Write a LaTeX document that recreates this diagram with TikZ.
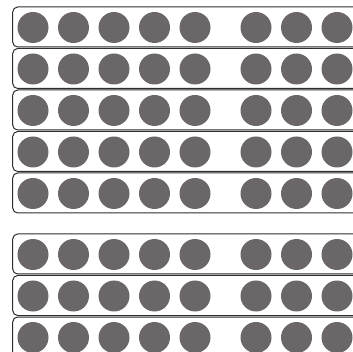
\documentclass[tikz,border=0pt]{standalone}
\usepackage{tikz}
\usetikzlibrary{positioning}
\definecolor{dotgray}{RGB}{107,103,104}
\definecolor{framegray}{RGB}{45,45,45}

\begin{document}
\begin{tikzpicture}[x=1pt, y=-1pt,
        frame/.style={draw=framegray, line width=1pt, rounded corners=5pt},
        dot/.style={circle, fill=dotgray, minimum size=31pt, inner sep=0pt}
    ]
        \useasboundingbox (0,0) rectangle (353,352);
        \clip (0,0) rectangle (353,352);

        % Frames: five on top, three below the gap
        \foreach \top [count=\r] in {7,48.5,90,131.5,173,234,275.5,317} {
            \draw[frame] (12.7,\top) rectangle (420,\top+40);
            % Dots: five, then a gap, then the rest
            \foreach \cx [count=\c] in {33,73.5,114,154.5,195,256,296.5,337}
                \node[dot] (dot-\r-\c) at (\cx,\top+20.5) {};
        }
    \end{tikzpicture}
\end{document}
